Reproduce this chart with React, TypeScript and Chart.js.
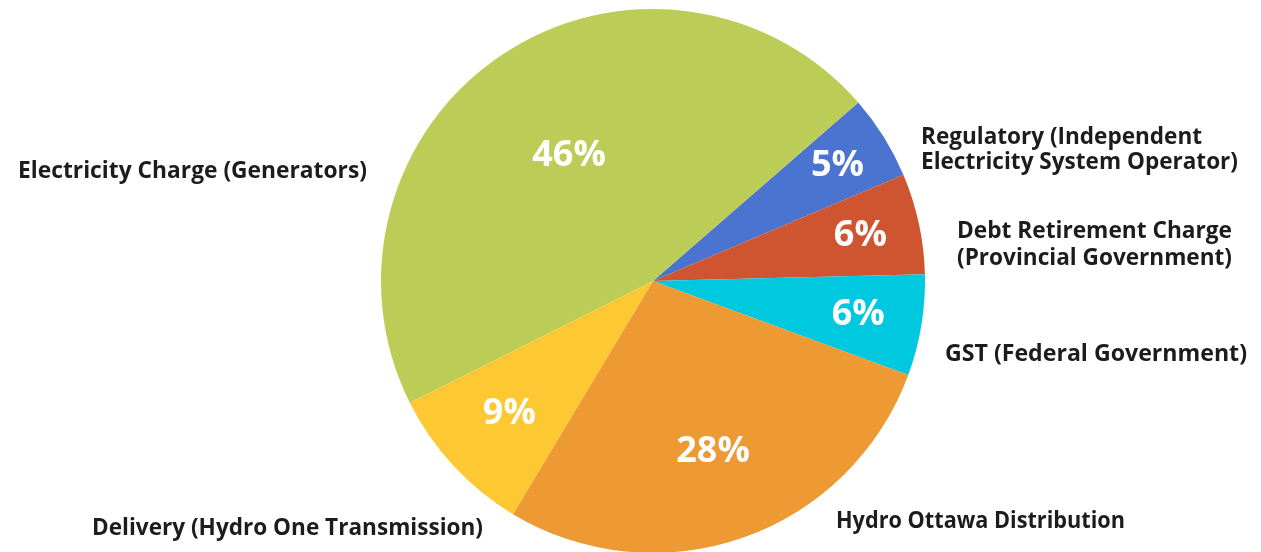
import React, { useEffect, useRef } from "react";
import { Chart, registerables } from "chart.js";

Chart.register(...registerables);

// ---- data ----
const categories: string[][] = [
  ["Regulatory (Independent", "Electricity System Operator)"],
  ["Debt Retirement Charge", "(Provincial Government)"],
  ["GST (Federal Government)"],
  ["Hydro Ottawa Distribution"],
  ["Delivery (Hydro One Transmission)"],
  ["Electricity Charge (Generators)"],
];
const shares: number[] = [5, 6, 6, 28, 9, 46];

// ---- styles / layout ----
const sliceColors = ["#4a74cf", "#cf5531", "#00c8df", "#ed9934", "#fdc832", "#bbcd57"];
const pctRadiusFrac = [0.8, 0.78, 0.765, 0.665, 0.72, 0.555];
const labelLayout = [
  { x: 921, y: 144, lh: 25, w: [281, 317] },
  { x: 957, y: 238, lh: 27, w: [275, 275] },
  { x: 945, y: 361, lh: 26, w: [302] },
  { x: 836, y: 528, lh: 26, w: [289] },
  { x: 92, y: 535, lh: 26, w: [391] },
  { x: 18, y: 178, lh: 26, w: [349] },
];

const labelPlugin = {
  id: "pieLabels",
  afterDraw(chart: any) {
    const ctx = chart.ctx as CanvasRenderingContext2D;
    const meta = chart.getDatasetMeta(0);
    const ds = chart.data.datasets[0].data as number[];
    ctx.save();
    // percentage labels inside slices
    ctx.fillStyle = "#ffffff";
    ctx.font = "bold 36px 'Open Sans'";
    ctx.textAlign = "center";
    ctx.textBaseline = "middle";
    meta.data.forEach((arc: any, i: number) => {
      const p = arc.getProps(["x", "y", "startAngle", "endAngle", "outerRadius"], true);
      const mid = (p.startAngle + p.endAngle) / 2;
      const r = p.outerRadius * pctRadiusFrac[i];
      ctx.fillText(ds[i] + "%", p.x + Math.cos(mid) * r, p.y + Math.sin(mid) * r);
    });
    // category labels outside
    ctx.fillStyle = "#1c1c1c";
    ctx.font = "bold 24px 'Open Sans'";
    ctx.textAlign = "left";
    ctx.textBaseline = "alphabetic";
    (chart.data.labels as string[][]).forEach((lines, i) => {
      const L = labelLayout[i];
      lines.forEach((line, j) => {
        ctx.fillText(line, L.x, L.y + j * L.lh, L.w[j]);
      });
    });
    ctx.restore();
  },
};

export default function App() {
  const ref = useRef<HTMLCanvasElement | null>(null);
  useEffect(() => {
    if (!ref.current) return;
    const chart = new Chart(ref.current, {
      type: "pie",
      data: {
        labels: categories,
        datasets: [
          {
            data: shares,
            backgroundColor: sliceColors,
            borderWidth: 0,
          },
        ],
      },
      options: {
        responsive: false,
        animation: false,
        rotation: 49,
        layout: { padding: { left: 381, right: 336, top: 9, bottom: 7 } },
        plugins: {
          legend: { display: false },
          tooltip: { enabled: false },
        },
      },
      plugins: [labelPlugin],
    });
    return () => chart.destroy();
  }, []);
  return (
    <div
      style={{
        position: "absolute",
        left: 0,
        top: 0,
        width: 1261,
        height: 552,
        overflow: "hidden",
        background: "#ffffff",
      }}
    >
      <canvas ref={ref} width={1261} height={560} style={{ display: "block" }} />
    </div>
  );
}
